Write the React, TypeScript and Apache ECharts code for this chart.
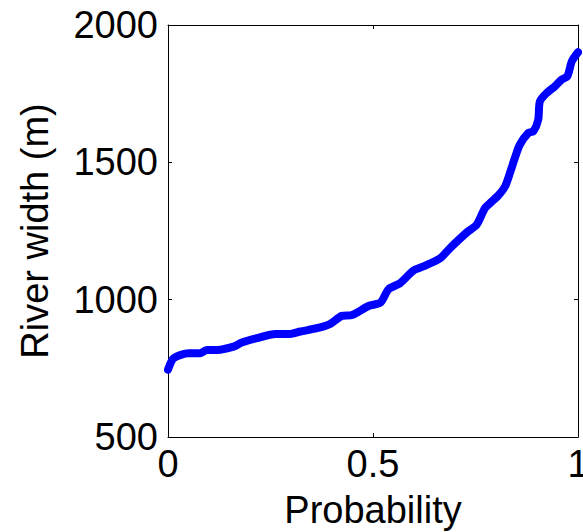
import React, { useEffect, useRef } from "react";
import * as echarts from "echarts";

const probability = [0, 0.014, 0.05, 0.079, 0.095, 0.12, 0.16, 0.18, 0.217, 0.262, 0.298, 0.323, 0.363, 0.396, 0.424, 0.449, 0.489, 0.518, 0.538, 0.566, 0.599, 0.623, 0.664, 0.688, 0.729, 0.753, 0.773, 0.786, 0.806, 0.822, 0.834, 0.846, 0.858, 0.879, 0.891, 0.903, 0.907, 0.924, 0.944, 0.96, 0.974, 0.985, 1.0];
const riverWidth = [745, 787, 805, 805, 817, 817, 829, 844, 860, 875, 875, 884, 896, 912, 941, 944, 977, 989, 1038, 1060, 1106, 1121, 1151, 1188, 1245, 1273, 1333, 1352, 1380, 1412, 1461, 1516, 1564, 1607, 1613, 1655, 1722, 1753, 1777, 1801, 1813, 1868, 1901];

const xName = "Probability";
const yName = "River width (m)";

const FONT = "'Liberation Sans', Arial, sans-serif";

export default function App() {
  const ref = useRef<HTMLDivElement>(null);
  useEffect(() => {
    if (!ref.current) return;
    const chart = echarts.init(ref.current, undefined, { renderer: "svg" });
    const data = probability.map((p, i) => [p, riverWidth[i]]);
    const axisLine = { show: true, onZero: false, lineStyle: { color: "#000", width: 1 } };
    const axisTick = { show: true, inside: true, length: 4, lineStyle: { color: "#000", width: 1 } };
    chart.setOption({
      animation: false,
      backgroundColor: "#fff",
      grid: { left: 168, right: 5, top: 25, bottom: 95, containLabel: false, outerBoundsMode: "none" },
      xAxis: [
        {
          type: "value",
          min: 0,
          max: 1,
          interval: 0.5,
          position: "bottom",
          axisLine,
          axisTick,
          splitLine: { show: false },
          axisLabel: { color: "#000", fontSize: 38, fontFamily: FONT, margin: 8, formatter: (v: number) => String(v) },
          name: xName,
          nameLocation: "middle",
          nameGap: 54,
          nameTextStyle: { color: "#000", fontSize: 38, fontFamily: FONT },
        },
        {
          type: "value",
          min: 0,
          max: 1,
          interval: 0.5,
          position: "top",
          axisLine,
          axisTick,
          splitLine: { show: false },
          axisLabel: { show: false },
        },
      ],
      yAxis: [
        {
          type: "value",
          min: 500,
          max: 2000,
          interval: 500,
          position: "left",
          axisLine,
          axisTick,
          splitLine: { show: false },
          axisLabel: { color: "#000", fontSize: 38, fontFamily: FONT, margin: 10, formatter: (v: number) => String(v) },
          name: yName,
          nameLocation: "middle",
          nameGap: 114,
          nameTextStyle: { color: "#000", fontSize: 38, fontFamily: FONT },
        },
        {
          type: "value",
          min: 500,
          max: 2000,
          interval: 500,
          position: "right",
          axisLine,
          axisTick,
          splitLine: { show: false },
          axisLabel: { show: false },
        },
      ],
      series: [
        {
          type: "line",
          data,
          xAxisIndex: 0,
          yAxisIndex: 0,
          showSymbol: false,
          clip: false,
          smooth: 0.25,
          lineStyle: { color: "#0000ff", width: 8, join: "round", cap: "round" },
        },
      ],
    });
    return () => chart.dispose();
  }, []);
  return (
    <div
      ref={ref}
      style={{ position: "fixed", left: 0, top: 0, width: 583, height: 532 }}
    />
  );
}
